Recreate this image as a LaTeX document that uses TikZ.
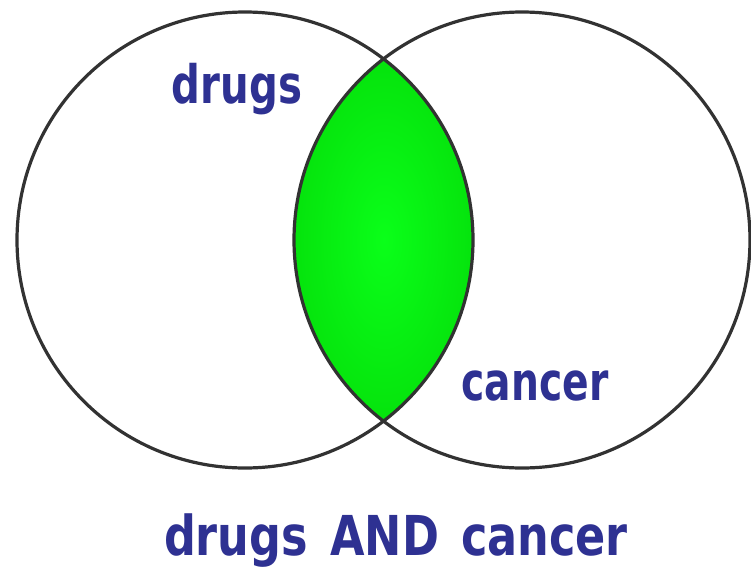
\documentclass[tikz,border=0pt]{standalone}
\usepackage{fontspec}
\setmainfont{DejaVu Sans}
\definecolor{navy}{RGB}{46,49,146}
\definecolor{ringcol}{RGB}{50,50,50}
\definecolor{lensin}{RGB}{10,255,25}
\definecolor{lensout}{RGB}{0,200,0}
\tikzset{
  ring/.style={draw=ringcol, line width=3.2pt},
  lbl/.style={text=navy, font=\bfseries\fontsize{53}{60}\selectfont, inner sep=0pt, anchor=base},
  title/.style={text=navy, font=\bfseries\fontsize{55}{62}\selectfont, inner sep=0pt, anchor=base}
}
\begin{document}
\begin{tikzpicture}[x=1pt,y=-1pt]
\useasboundingbox (0,0) rectangle (751,568);
\fill[white] (0,0) rectangle (751,568);
\begin{scope}
  \clip (245,240) circle (228pt);
  \clip (522,240) circle (228pt);
  \shade[inner color=lensin, outer color=lensout] (204,-122) rectangle (564,602);
\end{scope}
\draw[ring] (245,240) circle (228pt);
\draw[ring] (522,240) circle (228pt);
\node[lbl] (drugs) at (237,103) {\scalebox{0.76}[1]{drugs}};
\node[lbl] (cancer) at (535,400) {\scalebox{0.74}[1]{cancer}};
\node[title] (caption) at (396,555) {\scalebox{0.81}[1]{drugs\hspace{0.15em} AND\hspace{0.15em} cancer}};
\end{tikzpicture}
\end{document}
